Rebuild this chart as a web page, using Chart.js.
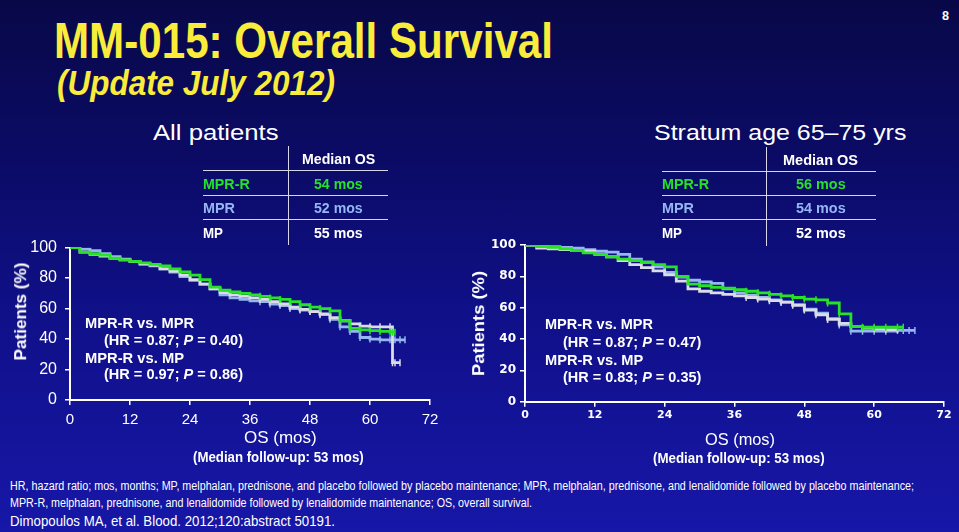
<!DOCTYPE html>
<html>
<head>
<meta charset="utf-8">
<script src="https://cdn.jsdelivr.net/npm/chart.js@4.4.1/dist/chart.umd.min.js"></script>
<style>
  html, body { margin:0; padding:0; }
  body { width:959px; height:532px; overflow:hidden; position:relative;
    background: linear-gradient(180deg, #080848 0%, #0b0b66 30%, #10108a 60%, #1717a8 100%);
    font-family: "Liberation Sans", Arial, sans-serif; }
  .cv { position:absolute; }
  .hl { position:absolute; height:0; border-top:1.5px solid #d6d6e6; }
  .vl { position:absolute; width:0; border-left:1.5px solid #d6d6e6; }
</style>
</head>
<body>
<div class="cv" style="left:0px;top:230px;width:450px;height:220px;"><canvas id="c1" width="450" height="220"></canvas></div>
<div class="cv" style="left:470px;top:230px;width:489px;height:220px;"><canvas id="c2" width="489" height="220"></canvas></div>

<div class="hl" style="left:203px;top:170px;width:185px;"></div>
<div class="hl" style="left:203px;top:194.5px;width:185px;"></div>
<div class="hl" style="left:203px;top:219px;width:185px;"></div>
<div class="vl" style="left:287.5px;top:146px;height:99px;"></div>
<div class="hl" style="left:662px;top:170.5px;width:214px;"></div>
<div class="hl" style="left:662px;top:194.5px;width:214px;"></div>
<div class="hl" style="left:662px;top:219px;width:214px;"></div>
<div class="vl" style="left:765.5px;top:146.5px;height:99px;"></div>

<script>
// ---------- data ----------
const xTicks = [0, 12, 24, 36, 48, 60, 72];
const yTicks = [0, 20, 40, 60, 80, 100];
const seriesNames = ["MPR-R", "MPR", "MP"];

// All patients (months grid)
const leftMonths = [0,2,4,6,8,10,12,14,16,18,20,22,24,26,28,30,32,34,36,38,40,42,44,46,48,50,52,54,56,58,60,62,64,64.5,65,66,67];
const leftMPRR = [100,97,96,95,93,92,91,90,89,88,86,84,82,79,74,72,71,70,69,68,67,66,64.5,62.5,61,60,58.5,52,47,46,45.5,45,44.5,44.5,44.5,null,null];
const leftMPR  = [100,99,98,96,94,92.5,91,89,88,86,84,81,78.5,76,73,69,67,66,65,64.5,63,62,60,59,58,56,53,48,45,41,40,39.5,39.5,39.5,39.5,39.5,39.5];
const leftMP   = [100,97,95.5,94.5,93,92,91,89.5,88.5,86,84.5,82,79,76,73,70.5,69,68,67,66,64.5,63,61,59.5,58,56.5,54,52,50,48.5,48,48,48,24.5,24.5,24.5,null];

// Stratum age 65-75 yrs
const rightMonths = [0,2,4,6,8,10,12,14,16,18,20,22,24,26,28,30,32,34,36,38,40,42,44,46,48,50,52,54,56,58,60,62,64,65,66,67];
const rightMPRR = [100,99,98.5,97.5,96.5,95,94,92.5,91,90,89,87.5,86,80,75,74,73,72.5,71.5,70.5,69.5,68.5,67.5,66.5,65.5,65,63,56,48,47.5,47.5,47.5,47.5,47.5,null,null];
const rightMPR  = [100,99.5,99,98.5,98,97,96,95.5,94,91,89,86,82.5,79.5,77.5,76.5,75.5,72,69.5,68,66.5,65,63.5,62,59,56.5,53,49,45,45,45,45,45.5,45.5,45.5,45.5];
const rightMP   = [100,98,97.5,97,96.5,96,94,92.5,90,87.5,85.5,83.5,81,77,72,70.5,69.5,68.5,67.5,66.5,65.5,64.5,63.5,61.5,58.5,55.5,52.5,50,48,47,46.5,46,46,null,null,null];

// ---------- styling ----------
const GREEN = "#27e227", BLUE = "#96b6f2", GREY = "#dcdce6", WHITE = "#ffffff";

function xy(months, vals) {
  return months.map((m, i) => ({ x: m, y: vals[i] }));
}

function makeChart(id, months, sets, o) {
  const mk = (label, vals, col) => ({
    label, data: xy(months, vals), borderColor: col,
    pointBorderColor: col, pointBackgroundColor: col
  });
  const ds = [
    mk(seriesNames[0], sets[0], GREEN),
    mk(seriesNames[2], sets[2], GREY),
    mk(seriesNames[1], sets[1], BLUE)
  ];
  return new Chart(document.getElementById(id), {
    type: "line",
    data: { datasets: ds },
    options: {
      responsive: false, animation: false, devicePixelRatio: 1,
      layout: { padding: { top: o.top, right: o.right, left: 0, bottom: 0 } },
      plugins: { legend: { display: false }, tooltip: { enabled: false } },
      elements: {
        point: {
          pointStyle: "line", rotation: 90, borderWidth: 1.5,
          radius: c => (c.raw && c.raw.x >= 38 && c.raw.y !== null) ? 3.5 : 0
        },
        line: { borderWidth: 2.8, stepped: true, tension: 0, fill: false }
      },
      scales: {
        x: {
          type: "linear", min: 0, max: 72,
          afterBuildTicks: s => { s.ticks = xTicks.map(v => ({ value: v })); },
          afterFit: s => { s.height = o.xh; },
          grid: { drawOnChartArea: false, drawTicks: true, tickLength: 5, color: WHITE, lineWidth: 1.5 },
          border: { color: WHITE, width: 2 },
          ticks: { color: WHITE, font: o.xfont, padding: o.xpad, maxRotation: 0, autoSkip: false }
        },
        y: {
          type: "linear", min: 0, max: 100,
          afterBuildTicks: s => { s.ticks = yTicks.map(v => ({ value: v })); },
          afterFit: s => { s.width = o.yw; },
          grid: { drawOnChartArea: false, drawTicks: true, tickLength: 5, color: WHITE, lineWidth: 1.5 },
          border: { color: WHITE, width: 2 },
          ticks: { color: WHITE, font: o.yfont, padding: o.ypad, autoSkip: false }
        }
      }
    }
  });
}

makeChart("c1", leftMonths, [leftMPRR, leftMPR, leftMP], {
  top: 14, right: 20, xh: 50, yw: 70, xpad: 6, ypad: 8,
  xfont: { family: "Liberation Sans", size: 15 },
  yfont: { family: "Liberation Sans", size: 16 }
});
makeChart("c2", rightMonths, [rightMPRR, rightMPR, rightMP], {
  top: 15, right: 15, xh: 48.3, yw: 55, xpad: 2, ypad: 4,
  xfont: { family: "DejaVu Sans", size: 11, weight: "bold" },
  yfont: { family: "DejaVu Sans", size: 12, weight: "bold" }
});

// ---------- text ----------
function put(html, left, baseline, size, weight, color, width, style, family) {
  const d = document.createElement("div");
  d.innerHTML = html;
  d.style.cssText = "position:absolute;white-space:nowrap;transform-origin:0 0;" +
    "left:" + left + "px;top:" + (baseline - 0.8465 * size) + "px;" +
    "font-style:" + (style || "normal") + ";font-weight:" + weight + ";font-size:" + size + "px;" +
    "line-height:" + size + "px;font-family:" + (family || "'Liberation Sans', Arial, sans-serif") + ";color:" + color + ";";
  document.body.appendChild(d);
  if (width) {
    const w = d.getBoundingClientRect().width;
    d.style.transform = "scaleX(" + (width / w) + ")";
  }
  return d;
}
function putV(html, cx, cy, size, weight, color, length) {
  const d = document.createElement("div");
  d.innerHTML = html;
  d.style.cssText = "position:absolute;white-space:nowrap;font-family:'Liberation Sans', Arial, sans-serif;" +
    "font-weight:" + weight + ";font-size:" + size + "px;line-height:" + size + "px;color:" + color + ";";
  document.body.appendChild(d);
  const w = d.getBoundingClientRect().width;
  d.style.left = (cx - w / 2) + "px";
  d.style.top = (cy - size / 2) + "px";
  d.style.transformOrigin = "50% 50%";
  d.style.transform = "rotate(-90deg) scaleX(" + (length / w) + ")";
}

const YEL = "#f9ec3a";
put("MM-015: Overall Survival", 54, 58, 50, "bold", YEL, 499);
put("(Update July 2012)", 57, 95, 35, "bold", YEL, 278, "italic");
put("8", 942, 20, 13, "bold", WHITE, 7);

put("All patients", 152.7, 140.7, 22, "normal", WHITE, 125.6);
put("Stratum age 65–75 yrs", 654.3, 140.7, 22, "normal", WHITE, 252.4);

// left table
put("Median OS", 301.7, 164, 15, "bold", WHITE, 73.3);
put("MPR-R", 203.3, 188.3, 15, "bold", GREEN, 46.7);
put("54 mos", 314, 188.3, 15, "bold", GREEN, 48.7);
put("MPR", 203.3, 213, 15, "bold", BLUE, 32);
put("52 mos", 314, 213, 15, "bold", BLUE, 48.7);
put("MP", 203.3, 237.7, 15, "bold", WHITE, 20);
put("55 mos", 314, 237.7, 15, "bold", WHITE, 48.7);

// right table
put("Median OS", 783.3, 164.3, 15, "bold", WHITE, 75);
put("MPR-R", 662.3, 188.3, 15, "bold", GREEN, 47);
put("56 mos", 796, 188.3, 15, "bold", GREEN, 49.7);
put("MPR", 662.3, 213, 15, "bold", BLUE, 32);
put("54 mos", 796, 213, 15, "bold", BLUE, 49.7);
put("MP", 662.3, 237.7, 15, "bold", WHITE, 20);
put("52 mos", 796, 237.7, 15, "bold", WHITE, 49.7);

// annotations
put("MPR-R vs. MPR", 85, 327.3, 15, "bold", WHITE, 109);
put("(HR = 0.87; <i>P</i> = 0.40)", 104, 345, 15, "bold", WHITE, 139);
put("MPR-R vs. MP", 85, 362.3, 15, "bold", WHITE, 99);
put("(HR = 0.97; <i>P</i> = 0.86)", 104, 379, 15, "bold", WHITE, 139);

put("MPR-R vs. MPR", 545, 328.3, 15, "bold", WHITE, 108);
put("(HR = 0.87; <i>P</i> = 0.47)", 563.3, 346.7, 15, "bold", WHITE, 138.3);
put("MPR-R vs. MP", 545, 364.3, 15, "bold", WHITE, 98.3);
put("(HR = 0.83; <i>P</i> = 0.35)", 563.3, 381.7, 15, "bold", WHITE, 138.3);

// axis titles
putV("Patients (%)", 21, 311, 17, "bold", WHITE, 98);
putV("Patients (%)", 479, 323, 17, "bold", WHITE, 105);
put("OS (mos)", 244, 443.3, 17, "normal", WHITE, 72.7);
put("(Median follow-up: 53 mos)", 192.7, 461.7, 14, "bold", WHITE, 170.7);
put("OS (mos)", 705, 445, 17, "normal", WHITE, 70);
put("(Median follow-up: 53 mos)", 653.3, 463.3, 14, "bold", WHITE, 171.7);

// footnotes
put("HR, hazard ratio; mos, months; MP, melphalan, prednisone, and placebo followed by placebo maintenance; MPR, melphalan, prednisone, and lenalidomide followed by placebo maintenance;", 10, 490, 12, "normal", WHITE, 904);
put("MPR-R, melphalan, prednisone, and lenalidomide followed by lenalidomide maintenance; OS, overall survival.", 10, 507, 12, "normal", WHITE, 522);
put("Dimopoulos MA, et al. Blood. 2012;120:abstract 50191.", 10, 526, 15, "normal", WHITE, 325);
</script>
</body>
</html>
